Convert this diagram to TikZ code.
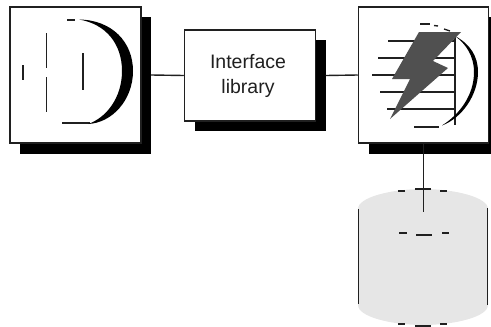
\documentclass[tikz,border=0pt]{standalone}
\usepackage{fontspec}
\setmainfont{Liberation Sans}
\definecolor{cylgray}{HTML}{E6E6E6}
\definecolor{boltgray}{HTML}{505050}
\definecolor{inkdark}{HTML}{202020}
\tikzset{
  boxnode/.style={draw=inkdark,line width=1.5pt,fill=white,inner sep=0pt,minimum width=#1},
  shadenode/.style={fill=black,inner sep=0pt,minimum width=#1},
  wire/.style={draw=inkdark,line width=1.4pt},
  glyph/.style={draw=inkdark,line width=1.4pt},
  dashpiece/.style={draw=inkdark,line width=1.7pt},
  labeltext/.style={text=inkdark,font=\fontsize{19.5pt}{22pt}\selectfont},
}
\begin{document}
\begin{tikzpicture}[x=1pt,y=-1pt]
\clip (0,0) rectangle (491,327);
\useasboundingbox (0,0) rectangle (491,327);
% cylinder
\fill[cylgray] (358,209) .. controls (358,197) and (392,189) .. (423,189)
  .. controls (454,189) and (488,197) .. (488,209) -- (488,305)
  .. controls (488,317) and (454,325) .. (423,325)
  .. controls (392,325) and (358,317) .. (358,305) -- cycle;
\draw[glyph] (358.5,209) -- (358.5,304);
\draw[glyph] (487.5,208) -- (487.5,305);
\foreach \xa/\xb/\yy in {398/405/191,415/431/189,440/447/191,399/407/233,416/432/235,442/449/233,398/405/324,415/431/326,440/447/324}
  \draw[dashpiece] (\xa,\yy) -- (\xb,\yy);
% shadows and boxes
\node[shadenode=131pt,minimum height=137pt] (ls) at (85.5,85.5) {};
\node[boxnode=131pt,minimum height=136pt] (l) at (75.5,75) {};
\node[shadenode=131pt,minimum height=91pt] (ms) at (260,85.5) {};
\node[boxnode=131pt,minimum height=91pt] (m) at (250,75.5) {};
\node[labeltext] (t1) at (248,62) {Interface};
\node[labeltext] (t2) at (248,88) {library};
\node[shadenode=131pt,minimum height=137pt] (rs) at (434,85.5) {};
\node[boxnode=130pt,minimum height=136pt] (r) at (423.5,75) {};
\coordinate (cylend) at (423.5,212);
% connectors
\draw[wire] (ls.east |- l.east) -- (m.west);
\draw[wire] (ms.east |- m.east) -- (r.west);
\draw[wire] (r.south) -- (cylend);
% left glyph
\draw[glyph] (23,65) -- (23,80);
\draw[glyph] (46.5,33) -- (46.5,68);
\draw[glyph] (46.5,77) -- (46.5,112);
\draw[glyph] (83,53) -- (83,90);
\draw[glyph] (67,20) -- (75,20);
\draw[glyph] (62,123) -- (90,123);
\fill[black] (79,19.5) .. controls (112,20) and (133,42) .. (133,71)
  .. controls (133,100) and (112,123) .. (88,124)
  .. controls (106,118) and (122,98) .. (122,71)
  .. controls (122,44) and (106,24) .. (79,19.5) -- cycle;
% right glyph
\foreach \xa/\yy in {388/41,378/58,372/75,380/92,387/109}
  \draw[glyph] (\xa,\yy) -- (455,\yy);
\draw[glyph] (455,32) -- (455,125);
\draw[glyph] (420,24) -- (430,24);
\draw[glyph] (434,25.5) -- (438,26);
\draw[glyph] (444,29) -- (450,31);
\draw[glyph,line width=1.7pt] (414,127) -- (439,127);
\fill[black] (455,36) .. controls (470,44) and (478,56) .. (478,72)
  .. controls (478,95) and (462,118) .. (442,125.5)
  .. controls (460,114) and (474,95) .. (474,72)
  .. controls (474,56) and (466,44) .. (455,36) -- cycle;
\fill[boltgray] (419,32) -- (461,32) -- (433,61) -- (448,68) -- (390,119) -- (410,79) -- (392,79) -- cycle;
\end{tikzpicture}
\end{document}
